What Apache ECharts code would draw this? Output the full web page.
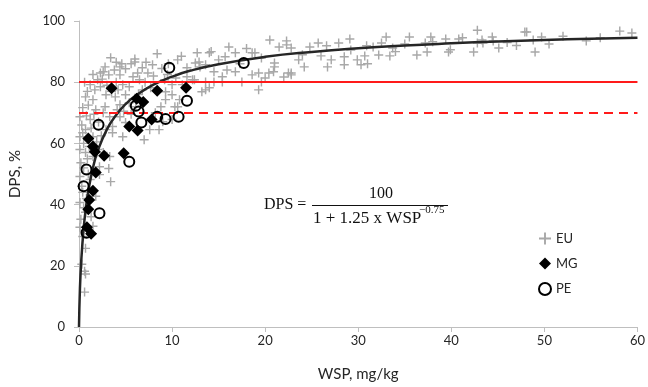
<!DOCTYPE html>
<html>
<head>
<meta charset="utf-8">
<script src="https://cdn.jsdelivr.net/npm/echarts@6/dist/echarts.min.js"></script>
<style>
html,body{margin:0;padding:0;background:#fff;}
#c{width:648px;height:387px;}
</style>
</head>
<body>
<div id="c"></div>
<script>
// ---- data ----
const xTicks = [0, 10, 20, 30, 40, 50, 60];
const yTicks = [0, 20, 40, 60, 80, 100];
const thresholdSolid = 80;
const thresholdDashed = 70;

const euPoints = [
 [0.7,25.7],[0.6,18.2],[0.7,17.3],[0.6,11.4],[0.3,20.5],
 [0.4,63.5],[3.6,63.5],[4.7,62.2],[7.0,61.2],[0.1,58],[0.7,57],[1.5,55.7],[3.3,55.7],[0.2,53.7],[2.2,52.4],[3.2,51.8],[3.4,47.5],[0.1,49.2],[1.2,48.2],[2.2,49.8],[0.4,44],[1.8,42.7],[0.1,40.7],[0.7,37.5],[0.2,35.2],[1.5,32.9],[0.1,32.6],[0.4,29.6],
 [8.4,89.3],[6,87.6],[7.9,85.7],[2.8,85],[4.6,86],[3.8,84],[5,84.4],[6.8,84.7],[7.4,83],[3.2,82.4],[4.4,82.4],[5.8,81.8],[6.5,80.8],[2,80.8],[1.2,79.2],[2.3,78.5],[4.7,79.2],[5.4,78.5],[6.8,77.5],[7.7,78.2],[9.3,76.9],[10,75.9],[10.8,74.3],[0.7,75.2],[1.5,74.3],[2.9,75.9],[3.9,75.2],[5,75.9],[5.4,73.3],[4.4,72.6],[2.8,72],[1.8,71],[0.4,71.7],[0.1,68.7],[1.2,67.8],[3.3,68.7],[4.4,68.7],[5,66.8],[3.6,65.5],[2.9,64.5],[0.7,64.5],[0.1,62.2],[1.5,62.2],[8.6,64.5],[9,67.1],[10,67.8],[6.1,72],[8.8,72],[10.6,72],[7.6,64.5],[8.2,70],[9.3,74.3],
 [6,86.6],[4.4,85],[2.6,83.4],[10.6,87.3],[11.6,84.7],[12.7,89.6],[12.9,86.6],[14.5,83.4],[15.7,88.3],[16.1,91.5],[18.9,89.6],[19.6,87.9],[20.5,93.8],[21,85],[19.3,77.5],[16.8,83.4],[15.4,80.1],[13.2,76.9],[12.4,80.8],[14,78.2],[10,79.2],[9.2,80.8],[10.4,81.4],
 [14,89.6],[14.2,90],[16.8,89.6],[18.6,89.6],[21.5,91.5],[22.3,93.5],[22.3,92.2],[12.5,86.3],[13,85],[13.6,85.7],[15,87.3],[15.9,84],[15.4,81.8],[11.6,81.8],[12.2,80.8],[13.6,80.1],[14.5,80.1],[17.5,80.1],[18.6,82.4],[19.3,83],[19.6,80.1],[20.4,83],[20.9,83.4],[21,86.3],[22.5,83],[13.6,77.5],[11.1,79.2],[10.3,72],
 [20,81.4],[22,81.7],[22.8,82.4],
 [22.8,91.2],[23.6,87.3],[24.2,85],[22.8,83],[24.8,91.5],[25.7,92.8],[26.6,91.9],[27.9,92.8],[29.1,94.1],[27.1,87.3],[26.7,85],[28.5,88.3],[28.5,85.7],[29.2,90.5],[29.9,87.3],[30.3,85.7],[31,86],[30.9,91.9],[31.6,91.5],[30.7,88.6],[32.5,92.8],[33,94.8],[32.2,88.9],[33.4,88.6],[33.7,91.2],[35.5,94.8],[36.3,88.9],[37.2,92.8],[37.4,89.9],[37.8,94.8],[38,93.2],[39.4,94.1],[39.7,89.9],[40.8,94.1],
 [39.9,90.6],[41.2,94.5],[42.8,97],[42.4,89.9],[42.8,92.8],[43.3,93.8],[43.4,92.8],[44.4,94.8],[44.5,93.5],[45.1,91.2],[47.9,96.4],[48.1,96.4],[48.8,93.8],[49,89.9],[49.7,94.8],[54.5,93.5],[58.1,96.7],[59.4,96.1],
 [0.3,66],[0.5,60],[0.8,69],[1,72.5],[1.3,65],[1.6,69.5],[1.9,60.5],[2.1,67],[2.4,62.5],[2.6,70],[0.9,77],[1.7,77.5],[2.5,81],[3,79],[3.5,77],[4,80],[4.2,77.5],[0.5,52],[0.9,55],[1.1,59],[2.0,58],[2.6,57],[0.3,46],[0.8,42],[1.0,50],[0.5,39],[1.3,36],[4.1,71],[4.8,70.5],[5.6,69.5],[6.4,76],[7.1,80],[8.0,82],[8.9,84.5],[9.6,86],[3.4,88],[4.0,86.5],[5.6,86],[2.3,83],[1.5,82.5],[0.6,80],[6.3,83],[7.2,86.5],[9.5,82.5],[11,88.5],[17.3,86],[18,91],[24,89],[26,88.6],[34,90],[35,92.5],[46,93],[52,95],[56,94.5],[47,92],[50.5,92.5]
];

const mgPoints = [
 [3.5,78],[8.4,77.2],[11.5,78.2],[6.2,74.6],[6.9,73.5],[7.8,67.8],[5.4,65.5],[6.3,64.2],
 [1.0,61.6],[1.5,59],[1.7,57.3],[2.7,56],[4.8,56.8],[1.8,50.5],[1.5,44.5],[1.1,41.5],
 [1.0,38.5],[0.85,32.6],[1.3,30.5]
];

const pePoints = [
 [9.7,84.7],[17.7,86.3],[11.6,73.9],[6.1,72.3],[6.4,70.4],[8.4,68.7],[9.3,68],[10.7,68.7],
 [6.7,66.8],[2.1,66.1],[5.4,54],[0.8,51.5],[0.5,46],[2.2,37.2],[0.8,30.8]
];

// fitted curve
const curveX = [0, 0.1, 0.25, 0.5, 0.75, 1, 1.5, 2, 3, 4, 5, 6, 8, 10, 12, 15, 20, 25, 30, 35, 40, 45, 50, 55, 60];
const curveY = [0, 12.5, 22.0, 32.2, 39.2, 44.4, 52.0, 57.4, 64.6, 69.3, 72.8, 75.4, 79.2, 81.8, 83.8, 85.9, 88.3, 89.9, 91.1, 92.0, 92.7, 93.3, 93.8, 94.2, 94.5];

const seriesNames = ['EU', 'MG', 'PE'];

// ---- chart ----
const FONT = 'Lato';
const chart = echarts.init(document.getElementById('c'), null, {renderer: 'canvas'});
const plus = 'path://M4.2,0 H5.8 V4.2 H10 V5.8 H5.8 V10 H4.2 V5.8 H0 V4.2 H4.2 Z';

const axisCommon = {
  axisLine: {show: true, lineStyle: {color: '#bfbfbf', width: 1}},
  axisTick: {show: true, inside: false, length: 5, lineStyle: {color: '#bfbfbf'}},
  splitLine: {show: false},
  axisLabel: {color: '#262626', fontFamily: FONT, fontSize: 13}
};

chart.setOption({
  animation: false,
  backgroundColor: '#fff',
  grid: {left: 76, right: 10, top: 21, bottom: 58},
  xAxis: Object.assign({}, axisCommon, {
    type: 'value', min: xTicks[0], max: xTicks[xTicks.length - 1], interval: xTicks[1] - xTicks[0],
    name: 'WSP, mg/kg', nameLocation: 'middle', nameGap: 40,
    nameTextStyle: {color: '#262626', fontFamily: FONT, fontSize: 15},
    axisLabel: Object.assign({}, axisCommon.axisLabel, {margin: 7})
  }),
  yAxis: Object.assign({}, axisCommon, {
    type: 'value', min: yTicks[0], max: yTicks[yTicks.length - 1], interval: yTicks[1] - yTicks[0],
    name: 'DPS, %', nameLocation: 'middle', nameGap: 56, nameRotate: 90,
    nameTextStyle: {color: '#262626', fontFamily: FONT, fontSize: 15},
    axisLabel: Object.assign({}, axisCommon.axisLabel, {margin: 14})
  }),
  legend: {
    data: seriesNames, orient: 'vertical', left: 533, top: 227,
    itemWidth: 12, itemHeight: 12, itemGap: 12,
    textStyle: {color: '#262626', fontFamily: FONT, fontSize: 13}
  },
  series: [
    {
      name: 'EU', type: 'scatter', symbol: plus, symbolSize: 9,
      itemStyle: {color: '#a8a8a8', opacity: 1}, data: euPoints, z: 2
    },
    {
      name: 'thresholds', type: 'line', data: [], z: 3,
      markLine: {
        silent: true, symbol: 'none', label: {show: false},
        data: [
          {yAxis: thresholdSolid, lineStyle: {color: '#ff1a1a', width: 2, type: 'solid'}},
          {yAxis: thresholdDashed, lineStyle: {color: '#ff1a1a', width: 2, type: [9, 6]}}
        ]
      }
    },
    {
      name: 'fit', type: 'line', smooth: true, showSymbol: false, symbol: 'none',
      data: curveX.map((x, i) => [x, curveY[i]]),
      lineStyle: {color: '#262626', width: 2.5}, z: 4
    },
    {
      name: 'MG', type: 'scatter', symbol: 'diamond', symbolSize: 12,
      itemStyle: {color: '#000', opacity: 1}, data: mgPoints, z: 5
    },
    {
      name: 'PE', type: 'scatter', symbol: 'circle', symbolSize: 10,
      itemStyle: {color: 'rgba(255,255,255,0)', borderColor: '#000', borderWidth: 2, opacity: 1},
      data: pePoints, z: 6
    }
  ],
  graphic: [
    {type: 'text', left: 264, top: 197, style: {text: 'DPS =', font: '16px "Liberation Serif"', fill: '#111'}},
    {type: 'text', left: 369, top: 186, style: {text: '100', font: '16px "Liberation Serif"', fill: '#111'}},
    {type: 'rect', shape: {x: 312, y: 205, width: 136, height: 1}, style: {fill: '#111'}},
    {type: 'text', left: 313, top: 210, style: {text: '1 + 1.25 x WSP', font: '17px "Liberation Serif"', fill: '#111'}},
    {type: 'text', left: 419, top: 205, style: {text: '\u22120.75', font: '11px "Liberation Serif"', fill: '#111'}}
  ]
});
</script>
</body>
</html>
